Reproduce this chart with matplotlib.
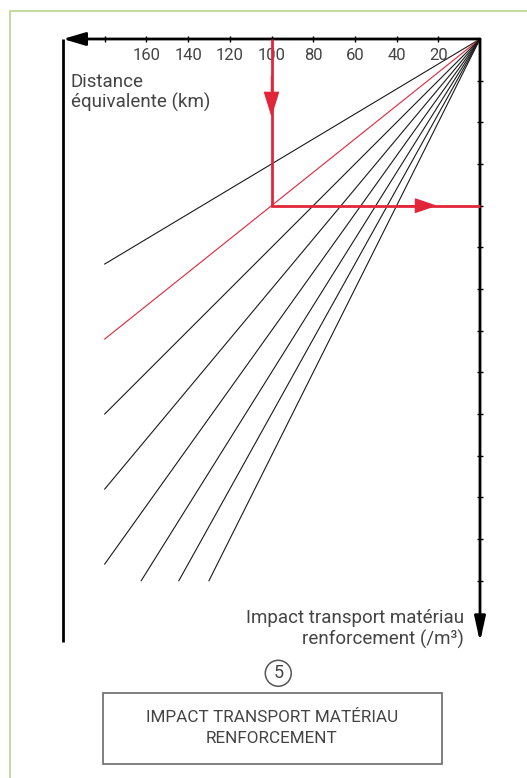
import matplotlib
matplotlib.use("Agg")
import matplotlib.pyplot as plt
import matplotlib.patches as mpatches
from matplotlib.lines import Line2D

# ── Data ─────────────────────────────────────────────────────────────────────

distance_ticks = [20, 40, 60, 80, 100, 120, 140, 160, 180]
distance_labels = ["20", "40", "60", "80", "100", "120", "140", "160", ""]
impact_ticks = list(range(1, 14))

# impact units per km for each fan line (red one highlighted)
impact_per_km = [0.03, 0.04, 0.05, 0.06, 0.07, 0.08, 0.09, 0.10]
highlight = 1
max_distance = 180
max_impact = 13

# worked example: 100 km -> 4 units
example_distance = 100
example_impact = 4

RED = "#e2263a"
TEXT = "#444444"
FRAME = "#c2da9e"

plt.rcParams["font.family"] = ["Roboto", "DejaVu Sans"]

fig = plt.figure(figsize=(5.27, 7.78), dpi=100)
ymax = 14.47
ax = fig.add_axes([63 / 527, 1 - 642 / 778, 417 / 527, 603 / 778])
ax.set_xlim(200, 0)
ax.set_ylim(ymax, 0)
ax.set_facecolor("none")
for s in ax.spines.values():
    s.set_visible(False)

# ticks
ax.xaxis.tick_top()
ax.set_xticks(distance_ticks, labels=distance_labels)
ax.tick_params(axis="x", direction="inout", length=5, width=1, color="black",
               labelsize=12, labelcolor=TEXT, pad=-19.5)
ax.yaxis.tick_right()
ax.set_yticks(impact_ticks)
ax.tick_params(axis="y", direction="inout", length=4.5, width=1, color="black",
               labelright=False)

# ── Fan lines ────────────────────────────────────────────────────────────────
for i, k in enumerate(impact_per_km):
    d_end = min(max_distance, max_impact / k)
    color = RED if i == highlight else "#1a1a1a"
    ax.plot([0, d_end], [0, k * d_end], color=color, lw=0.8, zorder=2)

# ── Axes with arrows ─────────────────────────────────────────────────────────
ax.annotate("", xy=(200, 0), xytext=(0, 0), annotation_clip=False,
            arrowprops=dict(arrowstyle="-|>,head_length=1.35,head_width=0.4",
                            mutation_scale=10, lw=2, color="black",
                            shrinkA=0, shrinkB=0))
ax.annotate("", xy=(0, ymax), xytext=(0, 0), annotation_clip=False,
            arrowprops=dict(arrowstyle="-|>,head_length=1.5,head_width=0.33",
                            mutation_scale=10, lw=2, color="black",
                            shrinkA=0, shrinkB=0))
ax.plot([200, 200], [0, ymax], color="black", lw=2, clip_on=False,
        solid_capstyle="butt")

# ── Red worked example ───────────────────────────────────────────────────────
ax.plot([example_distance, example_distance, 0], [0, example_impact, example_impact],
        color=RED, lw=2, zorder=4, clip_on=False, solid_joinstyle="miter",
        solid_capstyle="butt")
ax.annotate("", xy=(example_distance, 1.87), xytext=(example_distance, 0.9),
            arrowprops=dict(arrowstyle="-|>,head_length=1.6,head_width=0.5",
                            mutation_scale=10, lw=1, color=RED,
                            shrinkA=0, shrinkB=0), zorder=5)
ax.annotate("", xy=(20.6, example_impact), xytext=(40, example_impact),
            arrowprops=dict(arrowstyle="-|>,head_length=1.4,head_width=0.48",
                            mutation_scale=10, lw=1, color=RED,
                            shrinkA=0, shrinkB=0), zorder=5)

# ── Axis titles ──────────────────────────────────────────────────────────────
ax.text(196.3, 1.28, "Distance\néquivalente (km)", ha="left", va="center",
        fontsize=13.5, color=TEXT, linespacing=1.1)
ax.text(7.7, 14.15, "Impact transport matériau\nrenforcement (/m³)", ha="right",
        va="center", multialignment="right", fontsize=13.5, color=TEXT,
        linespacing=1.2)

# ── Caption below ────────────────────────────────────────────────────────────
fig.text(0.528, 0.1346, "5", ha="center", va="center", fontsize=13, color=TEXT,
         bbox=dict(boxstyle="circle,pad=0.22", fc="none", ec="#555555", lw=1.1))
fig.add_artist(mpatches.Rectangle((102.7 / 527, 1 - 764 / 778), 339 / 527, 71 / 778,
                                  transform=fig.transFigure, fill=False,
                                  ec="#6a6a6a", lw=1.2))
fig.text(0.516, 0.0639, "IMPACT TRANSPORT MATÉRIAU\nRENFORCEMENT", ha="center",
         va="center", fontsize=12.3, color=TEXT, linespacing=1.5)

# outer frame (left and top only)
fig.add_artist(Line2D([10 / 527, 10 / 527, 1], [0, 1 - 11 / 778, 1 - 11 / 778],
                      transform=fig.transFigure, color=FRAME, lw=1.4))

fig.savefig("out.png", dpi=100)
